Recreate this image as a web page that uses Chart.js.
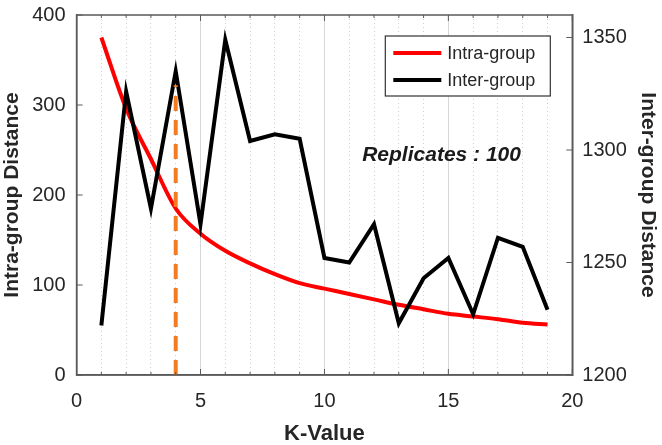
<!DOCTYPE html>
<html>
<head>
<meta charset="utf-8">
<script src="https://cdn.jsdelivr.net/npm/chart.js@4"></script>
<style>
  html, body { margin: 0; padding: 0; background: #ffffff; }
  #wrap { width: 662px; height: 445px; }
</style>
</head>
<body>
<div id="wrap"><canvas id="c" width="662" height="445"></canvas></div>
<script>
// ---- data ----
const kValues = [1, 2, 3, 4, 5, 6, 7, 8, 9, 10, 11, 12, 13, 14, 15, 16, 17, 18, 19];
const intraGroup = [375, 296, 240, 185, 157, 138, 124, 112, 102, 96, 90, 84, 78, 73, 68, 65, 62, 58, 56];
const interGroup = [1222, 1326, 1274, 1335, 1267, 1349, 1304, 1307, 1305, 1252, 1250, 1267, 1223, 1243, 1252, 1227, 1261, 1257, 1229];
const optimalK = 4;
const optimalLineTop = 322;
const seriesNames = ['Intra-group', 'Inter-group'];
const annotationText = 'Replicates : 100';
const xTitle = 'K-Value';
const yLeftTitle = 'Intra-group Distance';
const yRightTitle = 'Inter-group Distance';

const FONT = "'Liberation Sans', Arial, Helvetica, sans-serif";
const TXT = '#262626';
const AXIS = '#5a5a5a';

const framePlugin = {
  id: 'frame',
  afterDatasetsDraw(chart) {
    const { ctx, chartArea: a, scales } = chart;
    ctx.save();
    // inward tick marks
    ctx.strokeStyle = AXIS;
    ctx.lineWidth = 1;
    scales.x.ticks.forEach(t => {
      const px = scales.x.getPixelForValue(t.value);
      const len = (t.value % 5 === 0) ? 6 : 3;
      ctx.beginPath();
      ctx.moveTo(px, a.bottom); ctx.lineTo(px, a.bottom - len);
      ctx.moveTo(px, a.top); ctx.lineTo(px, a.top + len);
      ctx.stroke();
    });
    scales.y.ticks.forEach(t => {
      const py = scales.y.getPixelForValue(t.value);
      ctx.beginPath(); ctx.moveTo(a.left, py); ctx.lineTo(a.left + 6, py); ctx.stroke();
    });
    scales.y1.ticks.forEach(t => {
      const py = scales.y1.getPixelForValue(t.value);
      ctx.beginPath(); ctx.moveTo(a.right, py); ctx.lineTo(a.right - 6, py); ctx.stroke();
    });
    // box frame
    ctx.lineWidth = 1.5;
    ctx.strokeRect(a.left, a.top, a.right - a.left, a.bottom - a.top);

    // legend
    const bx = a.right - 187, by = a.top + 21, bw = 165, bh = 60;
    ctx.fillStyle = '#ffffff';
    ctx.fillRect(bx, by, bw, bh);
    ctx.strokeStyle = '#333333';
    ctx.lineWidth = 1.2;
    ctx.strokeRect(bx, by, bw, bh);
    ctx.font = `18px ${FONT}`;
    ctx.textBaseline = 'middle';
    ctx.textAlign = 'left';
    [0, 1].forEach(i => {
      const ds = chart.data.datasets[i];
      const yy = by + 17 + i * 27;
      ctx.strokeStyle = ds.borderColor;
      ctx.lineWidth = 4;
      ctx.beginPath(); ctx.moveTo(bx + 8, yy); ctx.lineTo(bx + 56, yy); ctx.stroke();
      ctx.fillStyle = TXT;
      ctx.fillText(ds.label, bx + 62, yy + 1);
    });

    // annotation
    ctx.font = `italic bold 21px ${FONT}`;
    ctx.fillStyle = '#1a1a1a';
    ctx.textAlign = 'center';
    ctx.fillText(annotationText, a.left + 365, a.top + 140);
    ctx.restore();
  }
};

const ctx = document.getElementById('c').getContext('2d');
new Chart(ctx, {
  type: 'line',
  data: {
    datasets: [
      {
        label: seriesNames[0],
        data: kValues.map((k, i) => ({ x: k, y: intraGroup[i] })),
        yAxisID: 'y',
        borderColor: '#ff0000',
        borderWidth: 4,
        pointRadius: 0,
        cubicInterpolationMode: 'monotone',
        order: 2
      },
      {
        label: seriesNames[1],
        data: kValues.map((k, i) => ({ x: k, y: interGroup[i] })),
        yAxisID: 'y1',
        borderColor: '#000000',
        borderWidth: 4,
        pointRadius: 0,
        tension: 0,
        borderJoinStyle: 'miter',
        order: 1
      },
      {
        label: 'optimal',
        data: [{ x: optimalK, y: 0 }, { x: optimalK, y: optimalLineTop }],
        yAxisID: 'y',
        borderColor: '#f47c20',
        borderWidth: 4,
        borderDash: [15, 9],
        pointRadius: 0,
        order: 0
      }
    ]
  },
  options: {
    responsive: false,
    animation: false,
    layout: { padding: { top: 6, left: 0, right: 0, bottom: 0 } },
    plugins: { legend: { display: false }, tooltip: { enabled: false } },
    scales: {
      x: {
        type: 'linear',
        min: 0, max: 20,
        ticks: {
          stepSize: 1,
          autoSkip: false,
          maxRotation: 0,
          padding: 16,
          color: TXT,
          font: { family: FONT, size: 20, lineHeight: 1.0 },
          callback: v => (v % 5 === 0 ? String(v) : '')
        },
        grid: {
          drawTicks: false,
          color: c => (c.tick && c.tick.value % 5 === 0) ? '#d6d6d6' : '#cfcfcf',
          lineWidth: 1
        },
        border: {
          display: true, color: AXIS, width: 1.5,
          dash: c => (c.tick && c.tick.value % 5 !== 0) ? [1, 3] : []
        },
        title: {
          display: true, text: xTitle, color: TXT,
          font: { family: FONT, size: 22, weight: 'bold', lineHeight: 1.0 },
          padding: { top: -4, bottom: 0 }
        }
      },
      y: {
        position: 'left',
        min: 0, max: 400,
        ticks: {
          stepSize: 100, padding: 11, color: TXT, autoSkip: false,
          font: { family: FONT, size: 20, lineHeight: 0.4 }
        },
        grid: { display: false, drawTicks: false },
        border: { display: true, color: AXIS, width: 1.5 },
        title: {
          display: true, text: yLeftTitle, color: TXT,
          font: { family: FONT, size: 21, weight: 'bold' },
          padding: { top: 0, bottom: -4 }
        }
      },
      y1: {
        position: 'right',
        min: 1200, max: 1360,
        ticks: {
          stepSize: 50, padding: 10, color: TXT, autoSkip: false,
          includeBounds: false,
          font: { family: FONT, size: 20, lineHeight: 0.4 },
          callback: v => String(v)
        },
        grid: { display: false, drawTicks: false },
        border: { display: true, color: AXIS, width: 1.5 },
        title: {
          display: true, text: yRightTitle, color: TXT,
          font: { family: FONT, size: 21, weight: 'bold' },
          padding: { top: 2, bottom: -2 }
        }
      }
    }
  },
  plugins: [framePlugin]
});
</script>
</body>
</html>
